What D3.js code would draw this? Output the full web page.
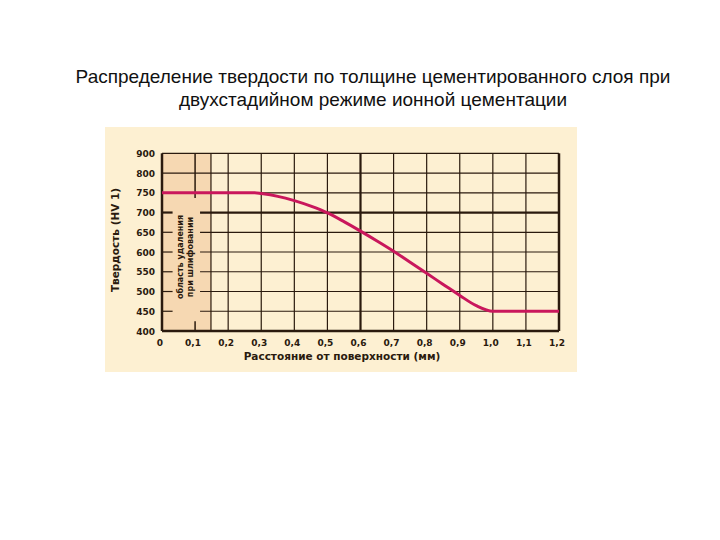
<!DOCTYPE html>
<html>
<head>
<meta charset="utf-8">
<script src="https://cdn.jsdelivr.net/npm/d3@7"></script>
<style>
  body { margin: 0; background: #fff; }
  svg text { font-family: "DejaVu Sans", sans-serif; }
</style>
</head>
<body>
<div id="chart"></div>
<script>
// hardness profile
var depth = [0, 0.1, 0.2, 0.28, 0.3, 0.35, 0.4, 0.45, 0.5, 0.55, 0.6, 0.65, 0.7, 0.75, 0.8, 0.85, 0.9, 0.95, 1.0, 1.1, 1.2];
var hardness = [750, 750, 750, 750, 748, 741, 730, 716, 699, 677, 653, 628, 602, 574, 546, 518, 490, 464, 450, 450, 450];

var xTicks = [0, 0.1, 0.2, 0.3, 0.4, 0.5, 0.6, 0.7, 0.8, 0.9, 1.0, 1.1, 1.2];
var xTickLabels = ["0", "0,1", "0,2", "0,3", "0,4", "0,5", "0,6", "0,7", "0,8", "0,9", "1,0", "1,1", "1,2"];
var yTicks = [400, 450, 500, 550, 600, 650, 700, 750, 800, 850];
var yTickLabels = ["400", "450", "500", "550", "600", "650", "700", "750", "800", "900"];

var W = 720, H = 540;
var svg = d3.select("#chart").append("svg").attr("width", W).attr("height", H);

// title
var title = svg.append("text")
  .attr("x", 373).attr("y", 83)
  .attr("text-anchor", "middle")
  .style("font-family", "Arial, 'Liberation Sans', sans-serif")
  .style("font-size", "19px")
  .attr("fill", "#111");
title.append("tspan").attr("x", 373).attr("dy", 0)
  .text("Распределение твердости по толщине цементированного слоя при");
title.append("tspan").attr("x", 373).attr("dy", 23)
  .text("двухстадийном режиме ионной цементации");

// panel
svg.append("rect").attr("x", 105).attr("y", 127).attr("width", 472).attr("height", 245)
  .attr("fill", "#fdf0d2");

var x = d3.scaleLinear().domain([0, 1.2]).range([162, 559]);
var y = d3.scaleLinear().domain([400, 850]).range([331, 153.3]);

var ink = "#2a1a0e";
var bandEnd = 0.148;

// grinding zone
svg.append("rect")
  .attr("x", x(0)).attr("y", y(850))
  .attr("width", x(bandEnd) - x(0)).attr("height", y(400) - y(850))
  .attr("fill", "#f6d8b2");

var grid = svg.append("g");

// horizontal grid
yTicks.forEach(function(v) {
  if (v <= 750 && v > 400) {
    grid.append("line").attr("x1", x(0)).attr("x2", x(0.032)).attr("y1", y(v)).attr("y2", y(v))
      .attr("stroke", ink).attr("stroke-width", v == 700 ? 2.2 : 1.2);
    grid.append("line").attr("x1", x(0.115)).attr("x2", x(1.2)).attr("y1", y(v)).attr("y2", y(v))
      .attr("stroke", ink).attr("stroke-width", v == 700 ? 2.2 : 1.2);
  } else {
    grid.append("line").attr("x1", x(0)).attr("x2", x(1.2)).attr("y1", y(v)).attr("y2", y(v))
      .attr("stroke", ink).attr("stroke-width", v == 400 ? 2.5 : 1.2);
  }
});

// vertical grid
xTicks.forEach(function(v) {
  if (v == 0.1) {
    grid.append("line").attr("x1", x(v)).attr("x2", x(v)).attr("y1", y(850)).attr("y2", y(737))
      .attr("stroke", ink).attr("stroke-width", 1.5);
    grid.append("line").attr("x1", x(v)).attr("x2", x(v)).attr("y1", y(425)).attr("y2", y(400))
      .attr("stroke", ink).attr("stroke-width", 1.5);
  } else {
    var sw = (v == 0 || v == 1.2) ? 2.5 : (v == 0.6 ? 2.2 : 1.2);
    grid.append("line").attr("x1", x(v)).attr("x2", x(v)).attr("y1", y(850)).attr("y2", y(400))
      .attr("stroke", ink).attr("stroke-width", sw);
  }
});
grid.append("line").attr("x1", x(bandEnd)).attr("x2", x(bandEnd)).attr("y1", y(850)).attr("y2", y(400))
  .attr("stroke", ink).attr("stroke-width", 1.2);

// band caption
var cap = svg.append("text")
  .attr("transform", "translate(" + 183 + "," + 257 + ") rotate(-90)")
  .attr("text-anchor", "middle")
  .style("font-size", "8px").style("font-weight", "bold")
  .attr("fill", ink);
cap.append("tspan").attr("x", 0).attr("dy", 0).text("область удаления");
cap.append("tspan").attr("x", 0).attr("dy", 10).text("при шлифовании");

// curve
var line = d3.line()
  .x(function(d, i) { return x(depth[i]); })
  .y(function(d) { return y(d); })
  .curve(d3.curveMonotoneX);
svg.append("path").datum(hardness)
  .attr("d", line)
  .attr("fill", "none")
  .attr("stroke", "#c9175c")
  .attr("stroke-width", 3);

// tick labels
svg.append("g").selectAll("text").data(yTicks).enter().append("text")
  .attr("x", 155).attr("y", function(d) { return y(d) + 3.5; })
  .attr("text-anchor", "end")
  .style("font-size", "9px").style("font-weight", "bold")
  .attr("fill", ink)
  .text(function(d, i) { return yTickLabels[i]; });

svg.append("g").selectAll("text").data(xTicks).enter().append("text")
  .attr("x", function(d) { return x(d) - 2; }).attr("y", 346)
  .attr("text-anchor", "middle")
  .style("font-size", "9px").style("font-weight", "bold")
  .attr("fill", ink)
  .text(function(d, i) { return xTickLabels[i]; });

// axis titles
svg.append("text")
  .attr("x", 342).attr("y", 360)
  .attr("text-anchor", "middle")
  .style("font-size", "10.5px").style("font-weight", "bold")
  .attr("fill", ink)
  .text("Расстояние от поверхности (мм)");

svg.append("text")
  .attr("transform", "translate(" + 119 + "," + 240 + ") rotate(-90)")
  .attr("text-anchor", "middle")
  .style("font-size", "10.5px").style("font-weight", "bold")
  .attr("fill", ink)
  .text("Твердость (HV 1)");
</script>
</body>
</html>
